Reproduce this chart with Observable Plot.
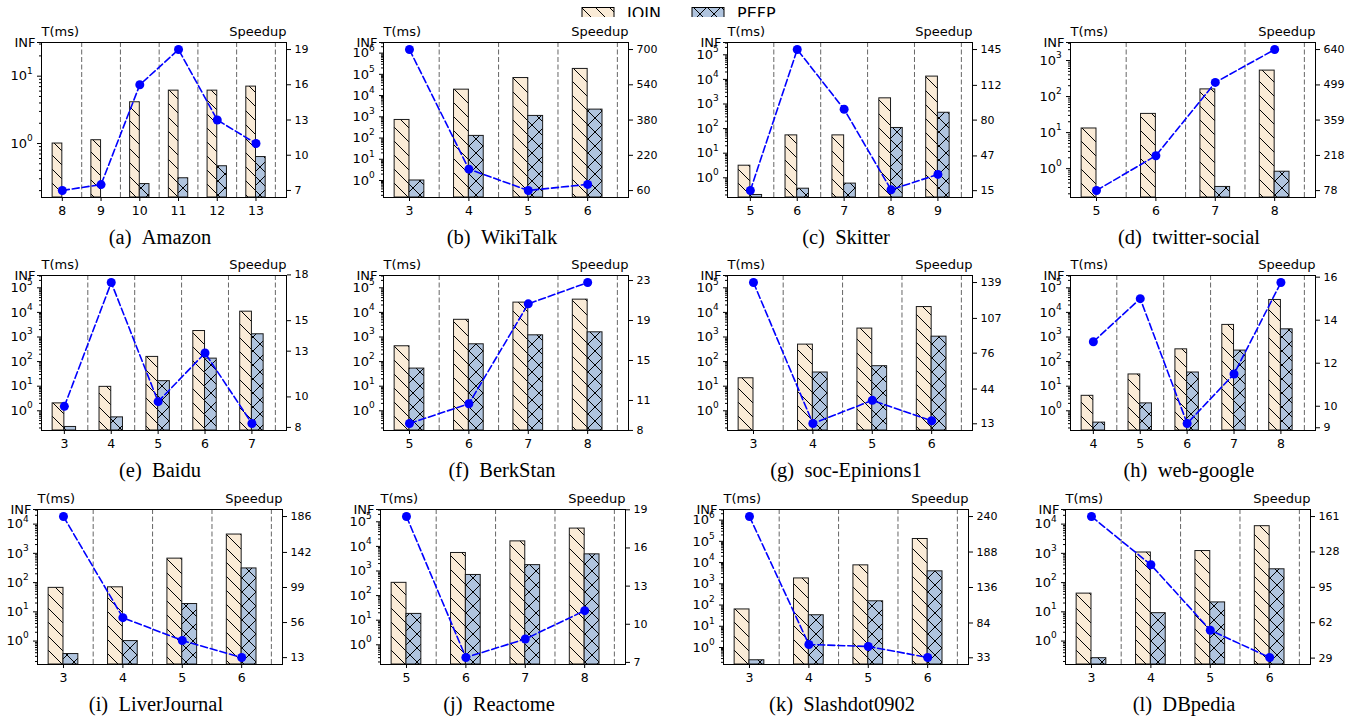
<!DOCTYPE html>
<html><head><meta charset="utf-8">
<script src="https://cdn.jsdelivr.net/npm/d3@7"></script>
<script src="https://cdn.jsdelivr.net/npm/@observablehq/plot@0.6"></script>
<style>
body{margin:0;background:#fff;}
#root{position:relative;width:1360px;height:719px;overflow:hidden;font-family:"DejaVu Sans";background:#fff;}
.panel{position:absolute;}
.panel svg{position:absolute;left:0;top:0;}
#legend{position:absolute;left:0;top:0;width:1360px;height:17px;overflow:hidden;}
</style></head><body>
<svg width="0" height="0" style="position:absolute">
<defs>
<pattern id="hJoin" patternUnits="userSpaceOnUse" width="14" height="14">
<rect width="14" height="14" fill="#FAEBD7"/>
<path d="M-2,-2L16,16M-2,12L2,16M12,-2L16,2" stroke="#000" stroke-width="1" fill="none"/>
</pattern>
<pattern id="hPefp" patternUnits="userSpaceOnUse" width="14" height="14">
<rect width="14" height="14" fill="#B0C4DE"/>
<path d="M-2,-2L16,16M-2,12L2,16M12,-2L16,2M-2,16L16,-2M-2,2L2,-2M12,16L16,12" stroke="#000" stroke-width="1" fill="none"/>
</pattern>
</defs></svg>
<div id="root">
<div id="legend"><svg width="1360" height="17">
<rect x="582" y="7.5" width="32" height="11" fill="url(#hJoin)" stroke="#000" stroke-width="1"/>
<text x="627" y="19" font-family="DejaVu Sans" font-size="16">JOIN</text>
<rect x="692" y="7.5" width="32" height="11" fill="url(#hPefp)" stroke="#000" stroke-width="1"/>
<text x="737" y="19" font-family="DejaVu Sans" font-size="16">PEFP</text>
</svg></div>
</div>
<script>
const datasets = ["Amazon","WikiTalk","Skitter","twitter-social","Baidu","BerkStan","soc-Epinions1","web-google","LiverJournal","Reactome","Slashdot0902","DBpedia"];
const letters = ["a","b","c","d","e","f","g","h","i","j","k","l"];
const categories = [[8,9,10,11,12,13],[3,4,5,6],[5,6,7,8,9],[5,6,7,8],[3,4,5,6,7],[5,6,7,8],[3,4,5,6],[4,5,6,7,8],[3,4,5,6],[5,6,7,8],[3,4,5,6],[3,4,5,6]];
const joinMs = [
  [1.0,1.12,4.1,6.1,6.1,7.0],
  [710,1.9e4,6.7e4,1.8e5],
  [3.1,53,53,1700,1.3e4],
  [13,33,158,525],
  [2.0,9.4,155,1750,1.07e4],
  [420,5000,2.5e4,3.3e4],
  [21,490,2200,1.65e4],
  [4.06,30,315,3100,3.2e4],
  [66,69,660,4400],
  [330,5400,1.6e4,5.3e4],
  [62,1790,7400,1.29e5],
  [42,1070,1200,8500]
];
const pefpMs = [
  [0.1,0.1,0.25,0.305,0.46,0.63],
  [1.0,126,1100,2180],
  [0.2,0.36,0.58,106,440],
  [0.1,0.1,0.31,0.82],
  [0.22,0.54,16,132,1290],
  [52,505,1170,1550],
  [0.1,36,65,1030],
  [0.33,2.0,36,280,2050],
  [0.36,1.0,18.5,305],
  [18,690,1730,4750],
  [0.25,33,150,3870],
  [0.26,9.0,21,285]
];
const speedup = [
  [7,7.5,16,19,13,11],
  [700,157,60.5,88],
  [15.2,145,90,15.9,30],
  [78.5,217,509,640],
  [9.38,17.5,9.69,12.88,8.26],
  [8.7,10.67,20.67,22.8],
  [139,13.3,33.9,15.7],
  [13.0,15.0,9.2,11.5,15.75],
  [186,62,34,13.2],
  [18.47,7.39,8.84,11.07],
  [240,52.5,49.6,33.5],
  [161,116,55,29.6]
];
const speedupTicks = [[7,10,13,16,19],[60,220,380,540,700],[15,47,80,112,145],[78,218,359,499,640],[8,10,13,15,18],[8,11,15,19,23],[13,44,76,107,139],[9,10,12,14,16],[13,56,99,142,186],[7,10,13,16,19],[33,84,136,188,240],[29,62,95,128,161]];
const yFloor = 0.158;

// layout
const frameLeft = [41,383,727,1070,41,383,727,1070,37,380,723,1065];
const rowTop = [42,275,509];
const FW = 245, FH = 155, ML = 40, MR = 45, MT = 22, MB = 55;
const W = ML + FW + MR, H = MT + FH + MB;
const sty = {background: "transparent", overflow: "visible", fontFamily: "DejaVu Sans", fontSize: "12px", color: "#000"};

const root = document.getElementById("root");

for (let p = 0; p < datasets.length; p++) {
  const n = categories[p].length;
  const idx = d3.range(n);
  const m = 0.05 * (n - 0.25);
  const xDom = [-0.25 - m, n - 0.5 + m];
  const topExp = Math.ceil(Math.log10(d3.max(joinMs[p])));
  const inf = Math.pow(10, topExp + 0.5);
  const exps = d3.range(0, topExp + 1);
  const minors = [];
  for (let e = -1; e <= topExp; e++) for (let k = 2; k <= 9; k++) {
    const v = k * Math.pow(10, e);
    if (v > yFloor && v < inf) minors.push(v);
  }
  const s = speedup[p];
  const smin = d3.min(s), smax = d3.max(s), r = smax - smin;
  const cl = v => Math.max(v, yFloor);
  const common = {width: W, height: H, marginLeft: ML, marginRight: MR, marginTop: MT, marginBottom: MB, style: sty};

  const leftPlot = Plot.plot({
    ...common,
    x: {type: "linear", domain: xDom},
    y: {type: "log", domain: [yFloor, inf], label: null},
    marks: [
      Plot.ruleX(idx, {x: i => i + 0.5, stroke: "#666", strokeWidth: 1, strokeDasharray: "5,2.5"}),
      Plot.rect(idx, {x1: i => i - 0.25, x2: i => i, y1: i => yFloor, y2: i => cl(joinMs[p][i]), fill: "url(#hJoin)", stroke: "#1a1a1a", strokeWidth: 1}),
      Plot.rect(idx, {x1: i => i, x2: i => i + 0.25, y1: i => yFloor, y2: i => cl(pefpMs[p][i]), fill: "url(#hPefp)", stroke: "#1a1a1a", strokeWidth: 1}),
      Plot.axisX({ticks: idx, tickFormat: i => String(categories[p][i]), tickSize: 4, tickPadding: 5, fontSize: 12.5, label: null}),
      Plot.axisY({ticks: exps.map(e => Math.pow(10, e)).concat([inf]), tickFormat: () => "", tickSize: 4, label: null}),
      Plot.axisY({ticks: minors, tickFormat: () => "", tickSize: 2, label: null}),
      Plot.text(exps, {y: e => Math.pow(10, e), frameAnchor: "left", text: () => "10", textAnchor: "end", dx: -14.5, fontSize: 13}),
      Plot.text(exps, {y: e => Math.pow(10, e), frameAnchor: "left", text: e => String(e), textAnchor: "start", dx: -14.5, dy: -5.5, fontSize: 9}),
      Plot.text([inf], {y: d => d, frameAnchor: "left", text: () => "INF", textAnchor: "end", dx: -6, fontSize: 13}),
      Plot.text(["T(ms)"], {frameAnchor: "top-left", lineAnchor: "middle", text: d => d, textAnchor: "start", dy: -11, fontSize: 13}),
      Plot.frame({stroke: "#000", strokeWidth: 1}),
      Plot.text(["(" + letters[p] + ")\u00a0\u00a0" + datasets[p]], {frameAnchor: "bottom", text: d => d, dx: -4, dy: 46, lineAnchor: "bottom", fontFamily: "Liberation Serif", fontSize: 20.5})
    ]
  });

  const rightPlot = Plot.plot({
    ...common,
    x: {type: "linear", domain: xDom, axis: null},
    y: {type: "linear", domain: [smin - 0.05 * r, smax + 0.05 * r], label: null},
    marks: [
      Plot.axisY({anchor: "right", ticks: speedupTicks[p], tickFormat: d => String(d), tickSize: 4, tickPadding: 4, fontSize: 11, label: null}),
      Plot.line(idx, {x: i => i, y: i => s[i], stroke: "#0000ff", strokeWidth: 1.6, strokeDasharray: "7,3"}),
      Plot.dot(idx, {x: i => i, y: i => s[i], r: 4.5, fill: "#0000ff"}),
      Plot.text(["Speedup"], {frameAnchor: "top-right", lineAnchor: "middle", text: d => d, textAnchor: "end", dy: -11, fontSize: 13})
    ]
  });

  const div = document.createElement("div");
  div.className = "panel";
  div.style.left = (frameLeft[p] - ML) + "px";
  div.style.top = (rowTop[Math.floor(p / 4)] - MT) + "px";
  div.style.width = W + "px";
  div.style.height = H + "px";
  div.appendChild(leftPlot);
  div.appendChild(rightPlot);
  root.appendChild(div);
}
</script>
</body></html>
